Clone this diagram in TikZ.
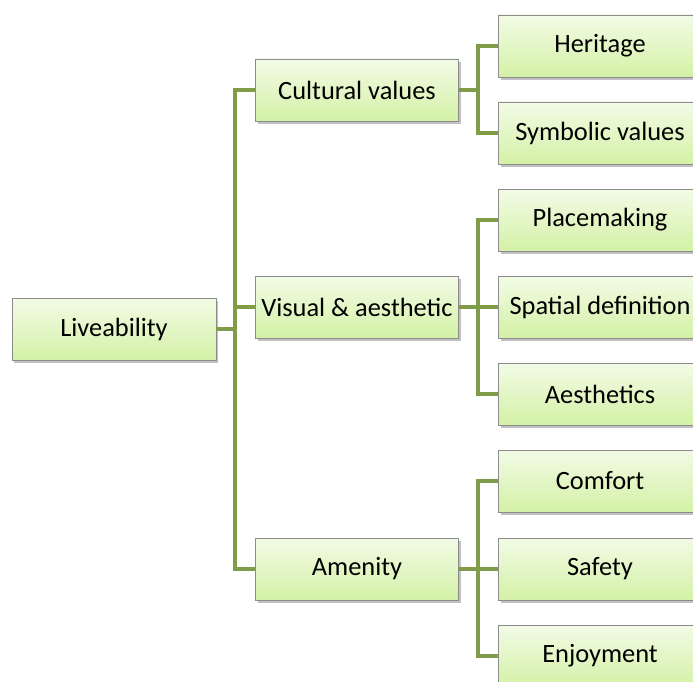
\documentclass[tikz,border=0pt]{standalone}
\usepackage{fontspec}
\setmainfont{Carlito}
\usetikzlibrary{shadows}
\definecolor{leafTop}{RGB}{242,251,230}
\definecolor{leafBottom}{RGB}{212,241,166}
\definecolor{branch}{RGB}{128,156,72}
\definecolor{frame}{RGB}{140,140,140}
\begin{document}
\begin{tikzpicture}[x=1bp,y=-1bp,
    box/.style={draw=frame, line width=0.7bp, top color=leafTop, bottom color=leafBottom,
        minimum width=203bp, minimum height=62bp, inner sep=0pt,
        font=\fontsize{26.5}{30}\selectfont, text=black,
        drop shadow={shadow xshift=2bp, shadow yshift=-3bp, opacity=0.35, fill=black!70}},
    link/.style={draw=branch, line width=4.5bp}]
    \useasboundingbox (0,0) rectangle (693,682);

    % root
    \node[box, minimum width=204bp] (live) at (114,329) {Liveability};

    % second level
    \node[box] (cult) at (357,90) {Cultural values};
    \node[box] (visu) at (357,307) {Visual \& aesthetic};
    \node[box] (amen) at (357,569) {Amenity};

    % third level
    \node[box] (heri) at (600,46) {Heritage};
    \node[box] (symb) at (600,133) {Symbolic values};
    \node[box] (plac) at (600,220) {Placemaking};
    \node[box] (spat) at (600,307) {Spatial definition};
    \node[box] (aest) at (600,394) {Aesthetics};
    \node[box] (comf) at (600,481) {Comfort};
    \node[box] (safe) at (600,569) {Safety};
    \node[box] (enjo) at (600,656) {Enjoyment};

    % connectors
    \foreach \kid in {cult,visu,amen}
        \draw[link] (\kid.west) -- ++(-20,0) |- (live.east);
    \foreach \kid in {heri,symb}
        \draw[link] (\kid.west) -- ++(-20,0) |- (cult.east);
    \foreach \kid in {plac,spat,aest}
        \draw[link] (\kid.west) -- ++(-20,0) |- (visu.east);
    \foreach \kid in {comf,safe,enjo}
        \draw[link] (\kid.west) -- ++(-20,0) |- (amen.east);
\end{tikzpicture}
\end{document}
